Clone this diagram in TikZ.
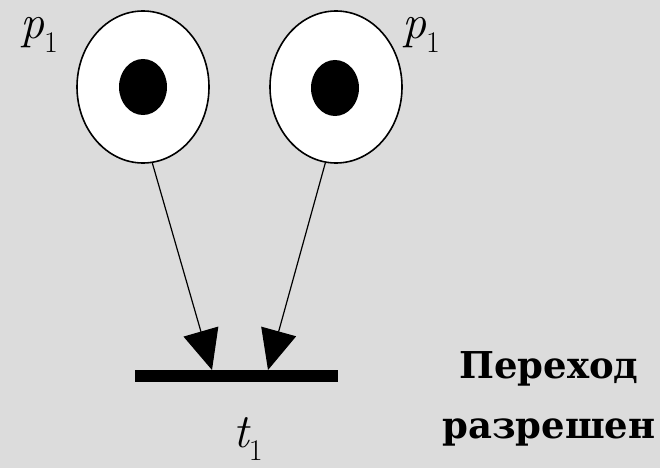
\documentclass[tikz,border=0pt]{standalone}
\usepackage{fontspec}
\newfontfamily\capfont{DejaVu Serif}
\usetikzlibrary{shapes.geometric,arrows.meta}
\definecolor{bg}{RGB}{220,220,220}
\newcommand{\sublbl}[2]{{\itshape #1}\raisebox{-0.28em}{\fontsize{30}{30}\selectfont #2}}
\begin{document}
\begin{tikzpicture}[x=1pt,y=-1pt,
  place/.style={ellipse,draw,line width=1.6pt,fill=white,minimum width=132pt,minimum height=152pt,inner sep=0pt},
  token/.style={ellipse,fill=black,minimum width=48pt,minimum height=56pt,inner sep=0pt},
  barbox/.style={rectangle,fill=black,minimum width=203pt,minimum height=12pt,inner sep=0pt},
  arc/.style={line width=1.2pt,-{Triangle[length=40pt,width=36pt]}},
  lbl/.style={font=\fontsize{48}{48}\selectfont,inner sep=0pt,anchor=base west,text height=22pt,text depth=13pt},
  captext/.style={font=\capfont\bfseries\fontsize{37}{37}\selectfont,inner sep=0pt,anchor=base}]
\fill[bg] (0,0) rectangle (660,468);
\useasboundingbox (0,0) rectangle (660,468);
\node[place] (pA) at (143,87) {};
\node[token] (kA) at (143,87) {};
\node[place] (pB) at (336,87) {};
\node[token] (kB) at (335,88) {};
\node[barbox] (t) at (236.5,376) {};
\coordinate (tipA) at (212,370);
\coordinate (tipB) at (268,370);
\draw[arc] (pA.-83) -- (tipA);
\draw[arc] (pB.-98) -- (tipB);
\node[lbl] (lA) at (20,39) {\sublbl{p}{1}};
\node[lbl] (lB) at (402,39) {\sublbl{p}{1}};
\node[lbl] (lt) at (233,447) {\sublbl{t}{1}};
\node[captext] (c1) at (549,378) {Переход};
\node[captext] (c2) at (549,438) {разрешен};
\end{tikzpicture}
\end{document}
